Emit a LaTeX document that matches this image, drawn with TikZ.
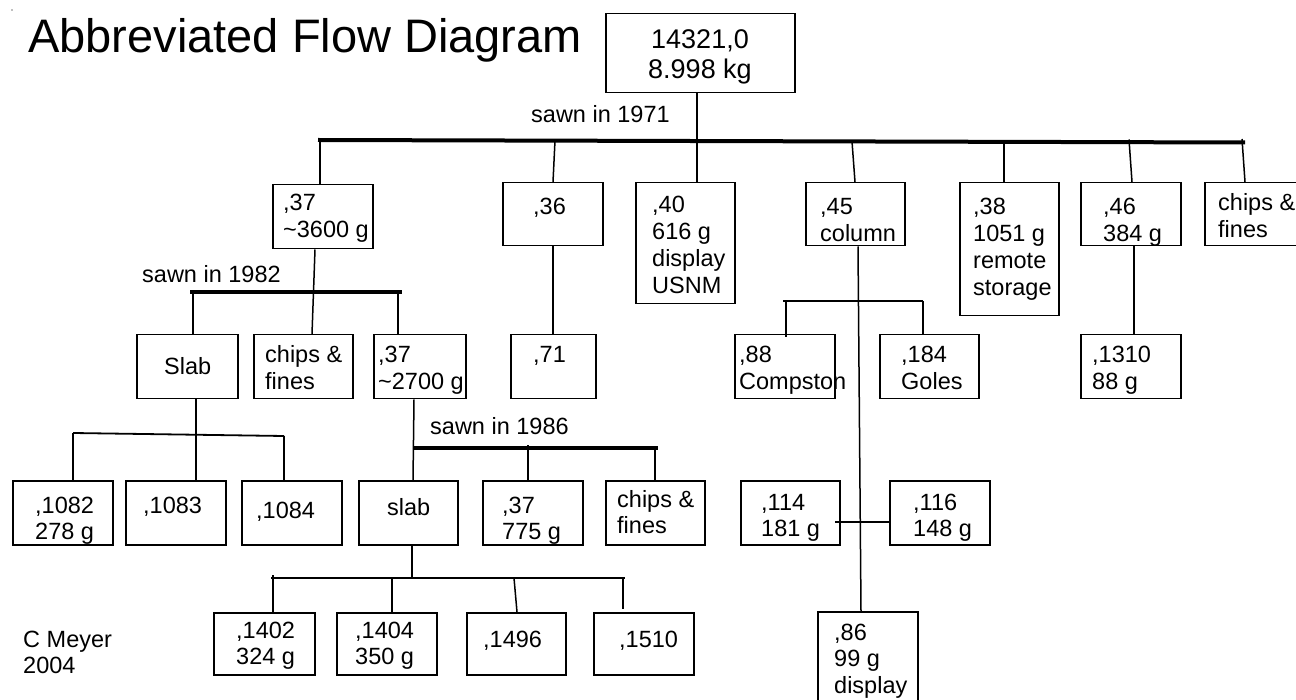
\documentclass[tikz,border=0pt]{standalone}
\usepackage{fontspec}
\setmainfont{Liberation Sans}
\newcommand{\tlines}[1]{\begin{tabular}[t]{@{}l@{}}#1\end{tabular}}
\newcommand{\tclines}[1]{\begin{tabular}[t]{@{}c@{}}#1\end{tabular}}
\newcommand{\bx}[5]{\node[box, minimum width={(#4)-(#2)}, minimum height={(#5)-(#3)}] (#1) at (#2,#3) {};}
\begin{document}
\begin{tikzpicture}[x=1pt,y=-1pt,
  box/.style={draw, line width=1.5, inner sep=0, anchor=north west},
  txt/.style={anchor=base west, inner sep=0, font=\fontsize{23.5}{26.7}\selectfont},
  ctxt/.style={anchor=base, inner sep=0},
  conn/.style={line width=1.5},
  bar/.style={line width=4},
  tbar/.style={line width=1.8}]
\useasboundingbox (0,0) rectangle (1296,700);
\clip (0,0) rectangle (1296,700);
\fill[white] (0,0) rectangle (1296,700);
\fill[gray] (12,10) circle (0.8);

% title
\node[anchor=base west, inner sep=0, font=\fontsize{47}{50}\selectfont] (title) at (28,53) {Abbreviated Flow Diagram};

% boxes
\bx{top}{605}{13}{794}{92}
\bx{b37}{272}{184}{372}{248}
\bx{b36}{502}{182}{602}{245}
\bx{b40}{635}{182}{734}{303}
\bx{b45}{805}{182}{904}{245}
\bx{b38}{959}{182}{1058}{315}
\bx{b46}{1080}{182}{1180}{245}
\bx{bcf1}{1204}{182}{1310}{245}
\bx{bslab1}{136}{334}{237}{398}
\bx{bcf2}{253}{334}{352}{398}
\bx{b37b}{373}{334}{465}{398}
\bx{b71}{510}{334}{595}{398}
\bx{b88}{734}{334}{834}{398}
\bx{b184}{879}{334}{978}{398}
\bx{b1310}{1080}{334}{1180}{398}
\bx{b1082}{12}{480}{112}{544}
\bx{b1083}{125}{480}{225}{544}
\bx{b1084}{241}{480}{341}{544}
\bx{bslab2}{358}{480}{457}{544}
\bx{b37c}{482}{480}{582}{544}
\bx{bcf3}{605}{480}{704}{544}
\bx{b114}{740}{480}{839}{544}
\bx{b116}{889}{480}{989}{544}
\bx{b1402}{213}{612}{314}{674}
\bx{b1404}{336}{612}{436}{674}
\bx{b1496}{466}{612}{565}{674}
\bx{b1510}{593}{612}{693}{674}
\bx{b86}{817}{611}{917}{720}

% texts
\node[ctxt, font=\fontsize{27}{30}\selectfont] (ttop) at (700,49) {\tclines{14321,0\\8.998 kg}};
\node[txt] (tsawn1) at (531,123) {sawn in 1971};
\node[txt] (tsawn2) at (142,283) {sawn in 1982};
\node[txt] (tsawn3) at (430,435) {sawn in 1986};
\node[txt] (t37) at (283,211) {\tlines{,37\\\textasciitilde3600 g}};
\node[txt] (t36) at (533,215) {,36};
\node[txt] (t40) at (652,213) {\tlines{,40\\616 g\\display\\USNM}};
\node[txt] (t45) at (820,215) {\tlines{,45\\column}};
\node[txt] (t38) at (973,215) {\tlines{,38\\1051 g\\remote\\storage}};
\node[txt] (t46) at (1103,215) {\tlines{,46\\384 g}};
\node[txt] (tcf1) at (1218,211) {\tlines{chips \&\\fines}};
\node[txt] (tslab1) at (164,375) {Slab};
\node[txt] (tcf2) at (265,363) {\tlines{chips \&\\fines}};
\node[txt] (t37b) at (378,363) {\tlines{,37\\\textasciitilde2700 g}};
\node[txt] (t71) at (533,363) {,71};
\node[txt] (t88) at (739,363) {\tlines{,88\\Compston}};
\node[txt] (t184) at (901,363) {\tlines{,184\\Goles}};
\node[txt] (t1310) at (1092,363) {\tlines{,1310\\88 g}};
\node[txt] (t1082) at (35,513) {\tlines{,1082\\278 g}};
\node[txt] (t1083) at (143,513) {,1083};
\node[txt] (t1084) at (256,518) {,1084};
\node[txt] (tslab2) at (387,515) {slab};
\node[txt] (t37c) at (502,513) {\tlines{,37\\775 g}};
\node[txt] (tcf3) at (617,507) {\tlines{chips \&\\fines}};
\node[txt] (t114) at (761,510) {\tlines{,114\\181 g}};
\node[txt] (t116) at (913,510) {\tlines{,116\\148 g}};
\node[txt] (t1402) at (236,638) {\tlines{,1402\\324 g}};
\node[txt] (t1404) at (355,638) {\tlines{,1404\\350 g}};
\node[txt] (t1496) at (483,647) {,1496};
\node[txt] (t1510) at (619,647) {,1510};
\node[txt] (t86) at (834,640) {\tlines{,86\\99 g\\display}};
\node[txt] (tmeyer) at (23,647) {\tlines{C Meyer\\2004}};

% sawn in 1971
\coordinate (L1) at (318,140);
\coordinate (R1) at (1245,142.5);
\draw[bar] (L1) -- (R1);
\draw[conn] (697,0 |- top.south) -- (697,0 |- b40.north);
\draw[conn] (320,140) -- (320,0 |- b37.north);
\draw[conn] (555,140.6) -- (553,0 |- b36.north);
\draw[conn] (852,141.4) -- (855,0 |- b45.north);
\draw[conn] (1004,141.9) -- (1004,0 |- b38.north);
\draw[conn] (1129,139.5) -- (1132,0 |- b46.north);
\draw[conn] (1242,139) -- (1245,0 |- bcf1.north);

% sawn in 1982
\coordinate (L2) at (190,292);
\coordinate (R2) at (402,292);
\draw[bar] (L2) -- (R2);
\draw[conn] (315,0 |- b37.south) -- (312,0 |- bcf2.north);
\draw[conn] (193,0 |- L2) -- (193,0 |- bslab1.north);
\draw[conn] (398,0 |- L2) -- (398,0 |- b37b.north);

% ,36 -> ,71
\draw[conn] (553,0 |- b36.south) -- (553,0 |- b71.north);

% ,45 column
\draw[conn] (858,0 |- b45.south) -- (861,0 |- b86.north);
\coordinate (L3) at (783,301);
\coordinate (R3) at (923,301);
\draw[tbar] (L3) -- (R3);
\draw[conn] (786,0 |- L3) -- (786,337);
\draw[conn] (R3) -- (R3 |- b184.north);
\coordinate (m114) at (835,522);
\draw[conn] (m114) -- (m114 -| b116.west);

% ,46 -> ,1310
\draw[conn] (1134,0 |- b46.south) -- (1134,0 |- b1310.north);

% Slab
\draw[conn] (196,0 |- bslab1.south) -- (196,0 |- b1083.north);
\coordinate (L4) at (73,433);
\coordinate (R4) at (284,436);
\draw[tbar] (L4) -- (R4);
\draw[conn] (L4) -- (L4 |- b1082.north);
\draw[conn] (R4) -- (R4 |- b1084.north);

% sawn in 1986
\draw[conn] (414,0 |- b37b.south) -- (413,0 |- bslab2.north);
\coordinate (L5) at (413,448);
\coordinate (R5) at (658,448);
\draw[bar] (L5) -- (R5);
\draw[conn] (528,445) -- (528,0 |- b37c.north);
\draw[conn] (655,0 |- R5) -- (655,0 |- bcf3.north);

% slab
\draw[conn] (412,0 |- bslab2.south) -- (412,579);
\coordinate (L6) at (271,578);
\coordinate (R6) at (625,578);
\draw[tbar] (L6) -- (R6);
\draw[conn] (273,575) -- (273,0 |- b1402.north);
\draw[conn] (392,0 |- L6) -- (392,0 |- b1404.north);
\draw[conn] (514,0 |- L6) -- (517,0 |- b1496.north);
\draw[conn] (623,0 |- L6) -- (623,609);
\end{tikzpicture}
\end{document}
